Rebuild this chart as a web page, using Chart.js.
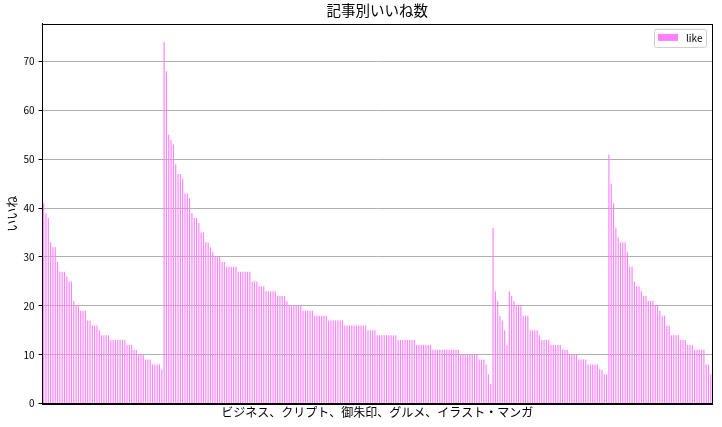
<!DOCTYPE html>
<html>
<head>
<meta charset="utf-8">
<script src="https://cdn.jsdelivr.net/npm/chart.js@4.4.0/dist/chart.umd.min.js"></script>
<style>
  html, body { margin: 0; padding: 0; background: #fff; }
</style>
</head>
<body>
<canvas id="likeChart" width="722" height="427"></canvas>
<script>
// likes per article, sorted within each category
const business = [41,39,38,33,32,32,29,27,27,27,26,25,25,21,20,20,19,19,19,17,17,16,16,16,15,
  14,14,14,14,13,13,13,13,13,13,13,12,12,12,11,11,10,10,10,9,9,9,8,8,8,8,7];
const crypto = [74,68,55,54,53,49,47,47,46,43,43,42,39,38,38,37,35,35,33,33,32,31,30,30,30,29,29,
  28,28,28,28,28,27,27,27,27,27,27,25,25,25,24,24,24,23,23,23,23,23,22,22,22,22,21,
  20,20,20,20,20,20,19,19,19,19,19,18,18,18,18,18,18,17,17,17,17,17,17,17,
  16,16,16,16,16,16,16,16,16,16,15,15,15,15,14,14,14,14,14,14,14,14,14,
  13,13,13,13,13,13,13,13,12,12,12,12,12,12,12,11,11,11,11,11,11,11,11,11,11,11,11,
  10,10,10,10,10,10,10,10,9,9,9,8,6,4];
const goshuin = [36,23,21,18,17,15,12];
const gourmet = [23,22,21,20,20,20,18,18,18,15,15,15,15,14,13,13,13,13,12,12,12,12,12,
  11,11,11,10,10,10,10,9,9,9,9,8,8,8,8,8,7,7,6,6];
const illustManga = [51,45,41,36,34,33,33,33,31,28,28,25,24,24,23,22,22,21,21,21,20,20,19,18,18,
  16,16,14,14,14,14,13,13,13,12,12,12,11,11,11,11,11,8,8,6];

const categories = ['ビジネス', 'クリプト', '御朱印', 'グルメ', 'イラスト・マンガ'];
const groups = [business, crypto, goshuin, gourmet, illustManga];
const yTicks = [0, 10, 20, 30, 40, 50, 60, 70];

const titleText = '記事別いいね数';
const xTitle = categories.join('、');
const yTitle = 'いいね';
const seriesName = 'like';
const barColor = '#ff80ff';
const fontFamily = "'Noto Sans CJK JP', 'Noto Sans', sans-serif";

const labels = [];
const likes = [];
groups.forEach(function(g, gi) {
  g.forEach(function(v, i) {
    labels.push(categories[gi] + ' ' + (i + 1));
    likes.push(v);
  });
});

// black box round the plot, like matplotlib spines
const framePlugin = {
  id: 'frame',
  afterDraw(chart) {
    const a = chart.chartArea;
    const ctx = chart.ctx;
    ctx.save();
    ctx.strokeStyle = '#000';
    ctx.lineWidth = 1;
    ctx.strokeRect(Math.round(a.left) + 0.5, Math.round(a.top) + 0.5,
      Math.round(a.right - a.left), Math.round(a.bottom - a.top));
    ctx.restore();
  }
};

// legend drawn inside the upper right corner
const legendBox = {
  id: 'legendBox',
  afterDraw(chart) {
    const a = chart.chartArea;
    const ctx = chart.ctx;
    const w = 52, h = 18;
    const x = a.right - 6 - w, y = a.top + 5;
    ctx.save();
    ctx.fillStyle = 'rgba(255,255,255,0.8)';
    ctx.strokeStyle = '#cccccc';
    ctx.lineWidth = 1;
    ctx.beginPath();
    ctx.roundRect(x + 0.5, y + 0.5, w, h, 2);
    ctx.fill();
    ctx.stroke();
    ctx.fillStyle = barColor;
    ctx.fillRect(x + 4, y + 5, 20, 7);
    ctx.fillStyle = '#000';
    ctx.font = '10px ' + fontFamily;
    ctx.textBaseline = 'middle';
    ctx.fillText(seriesName, x + 32, y + 9.5);
    ctx.restore();
  }
};

new Chart(document.getElementById('likeChart'), {
  type: 'bar',
  data: {
    labels: labels,
    datasets: [{
      label: seriesName,
      data: likes,
      backgroundColor: barColor,
      borderWidth: 0,
      categoryPercentage: 1.0,
      barPercentage: 0.5
    }]
  },
  options: {
    responsive: false,
    animation: false,
    layout: { padding: { left: 0, right: 10, top: 0, bottom: 7 } },
    plugins: {
      legend: { display: false },
      tooltip: { enabled: false },
      title: {
        display: true,
        fullSize: false,
        text: titleText,
        color: '#000',
        font: { family: fontFamily, size: 14.5, weight: 'normal' },
        padding: { top: 2, bottom: 4.5 }
      }
    },
    scales: {
      x: {
        grid: { display: false, drawTicks: false },
        border: { display: true, color: '#000' },
        ticks: { display: false },
        title: {
          display: true,
          text: xTitle,
          color: '#000',
          font: { family: fontFamily, size: 12 },
          padding: { top: 2, bottom: 0 }
        }
      },
      y: {
        min: 0,
        max: 77.7,
        afterBuildTicks: function(axis) {
          axis.ticks = yTicks.map(function(v) { return { value: v }; });
        },
        grid: { color: '#b0b0b0', lineWidth: 1, drawTicks: true, tickLength: 4, tickColor: '#000' },
        border: { display: true, color: '#000' },
        ticks: {
          color: '#000',
          padding: 4,
          font: { family: fontFamily, size: 10 }
        },
        title: {
          display: true,
          text: yTitle,
          color: '#000',
          font: { family: fontFamily, size: 12 },
          padding: { top: 5, bottom: 0 }
        }
      }
    }
  },
  plugins: [framePlugin, legendBox]
});
</script>
</body>
</html>
